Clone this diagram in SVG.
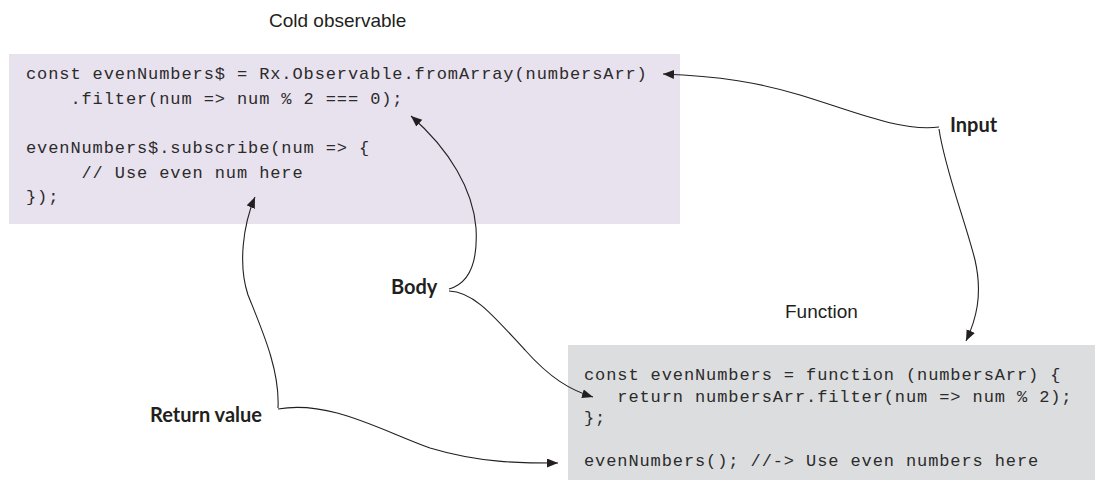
<svg xmlns="http://www.w3.org/2000/svg" width="1095" height="480" viewBox="0 0 1095 480">
<style>
.code{font-family:"Liberation Mono","Courier New",monospace;font-size:17px;letter-spacing:0.9px;fill:#2b2b2b;white-space:pre}
.cap{font-family:"Liberation Sans",Arial,sans-serif;font-size:19px;fill:#231f20}
.lbl{font-family:Lato,"Open Sans",sans-serif;font-weight:bold;font-size:20px;fill:#231f20}
.conn path{fill:none;stroke:#231f20;stroke-width:1.1}
</style>
<defs>
<marker id="ah" markerUnits="userSpaceOnUse" markerWidth="12" markerHeight="10" refX="11" refY="4.5" orient="auto">
<path d="M0,0 L11,4.5 L0,9 z" fill="#231f20"/>
</marker>
</defs>
<g id="cold">
<text class="cap" x="269" y="27">Cold observable</text>
<rect x="9" y="54" width="671" height="170" fill="#e8e1ee"/>
<text class="code" xml:space="preserve" x="26" y="79">const evenNumbers$ = Rx.Observable.fromArray(numbersArr)</text>
<text class="code" xml:space="preserve" x="26" y="103.5">    .filter(num =&gt; num % 2 === 0);</text>
<text class="code" xml:space="preserve" x="26" y="153">evenNumbers$.subscribe(num =&gt; {</text>
<text class="code" xml:space="preserve" x="26" y="177.5">     // Use even num here</text>
<text class="code" xml:space="preserve" x="26" y="202">});</text>
</g>
<g id="function">
<text class="cap" x="785" y="318">Function</text>
<rect x="568" y="345" width="527" height="135" fill="#dcdddf"/>
<text class="code" xml:space="preserve" x="584" y="380">const evenNumbers = function (numbersArr) {</text>
<text class="code" xml:space="preserve" x="584" y="401.5">   return numbersArr.filter(num =&gt; num % 2);</text>
<text class="code" xml:space="preserve" x="584" y="423">};</text>
<text class="code" xml:space="preserve" x="584" y="466">evenNumbers(); //-&gt; Use even numbers here</text>
</g>
<g id="input"><text class="lbl" x="950" y="132">Input</text></g>
<g id="body"><text class="lbl" x="391" y="294">Body</text></g>
<g id="return"><text class="lbl" x="150" y="422">Return value</text></g>
<g class="conn" id="connectors">
<path d="M939,127 C900,132 850,110 800,95 C760,83 720,76 663,74" marker-end="url(#ah)"/>
<path d="M939,129 C945,170 965,220 975,260 C983,295 976,320 966,341" marker-end="url(#ah)"/>
<path d="M449,289 C470,283 478,262 476,228 C473,190 450,150 411,116" marker-end="url(#ah)"/>
<path d="M449,291 C475,292 495,318 525,350 C550,378 570,390 593,397" marker-end="url(#ah)"/>
<path d="M278,408 C280,370 262,330 248,295 C238,265 243,225 255,197" marker-end="url(#ah)"/>
<path d="M278,409 C330,400 380,430 430,448 C480,463 520,463 558,463" marker-end="url(#ah)"/>
</g>
</svg>
